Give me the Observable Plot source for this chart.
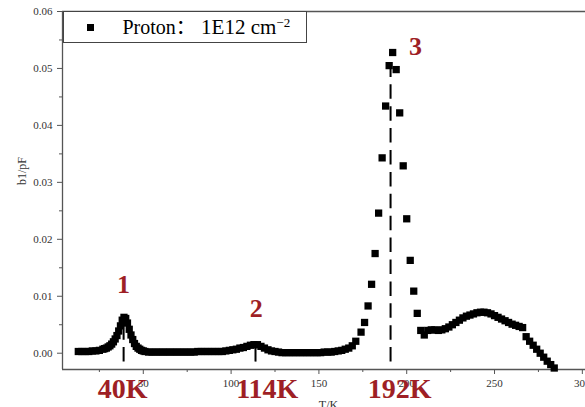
<!DOCTYPE html>
<html>
<head>
<meta charset="utf-8">
<script src="https://cdn.jsdelivr.net/npm/d3@7"></script>
<script src="https://cdn.jsdelivr.net/npm/@observablehq/plot@0.6"></script>
<style>
  html, body { margin: 0; padding: 0; background: white; }
  #wrap { position: relative; width: 585px; height: 407px; overflow: hidden; font-family: "Liberation Serif", "Times New Roman", serif; }
  #legend { position: absolute; left: 62.5px; top: 10.5px; width: 242px; height: 30px; border: 1px solid #444; background: white; box-sizing: content-box; }
  #legend .mk { position: absolute; left: 23px; top: 12px; width: 7px; height: 7px; background: black; }
  #legend .tx { position: absolute; left: 59px; top: 3px; font-size: 20px; line-height: 24px; color: black; white-space: nowrap; font-family: "Liberation Serif", "Noto Sans CJK SC", serif; }
  #legend .rest { font-size: 21px; }
  #legend sup { font-size: 0.62em; vertical-align: 0.55em; line-height: 0; }
  #ylab { position: absolute; left: 22px; top: 171px; transform: translate(-50%, -50%) rotate(-90deg); font-size: 12px; color: #333; white-space: nowrap; }
</style>
</head>
<body>
<div id="wrap">
  <div id="chart"></div>
  <div id="legend"><div class="mk"></div><div class="tx">Proton：<span class="rest">&nbsp;1E12 cm<sup>−2</sup></span></div></div>
  <div id="ylab">b1/pF</div>
</div>
<script>
// Temperatures (K) of measured points
const temps = [
  13,15,17,19,21,23,25,27,28,29,30,31,32,33,34,35,36,37,38,39,
  40,41,42,43,44,45,46,47,48,49,50,51,53,55,57,59,61,63,65,67,
  69,71,73,75,77,79,81,83,85,87,89,91,93,95,97,99,101,103,105,107,
  109,111,113,115,117,119,121,123,125,127,129,131,133,135,137,139,141,143,145,147,
  149,151,153,155,157,159,161,163,165,167,169,171,174,176,178,180,182,184,186,188,
  190,192,194,196,198,200,202,204,206,208,210,212,214,216,218,220,222,224,226,228,
  230,232,234,236,238,240,242,244,246,248,250,252,254,256,258,260,262,264,266,268,
  270,272,274,276,278,280,282,284
];
// b1 values (pF)
const b1 = [
  0.0003,0.0003,0.0003,0.0003,0.0004,0.0004,0.0005,0.0007,0.0008,0.0009,0.0011,0.0013,0.0016,0.0020,0.0025,0.0031,0.0039,0.0048,0.0058,0.0063,
  0.0061,0.0053,0.0042,0.0032,0.0024,0.0017,0.0012,0.0009,0.0007,0.0005,0.0004,0.0003,0.0002,0.0002,0.0002,0.0002,0.0002,0.0002,0.0002,0.0002,
  0.0002,0.0002,0.0002,0.0002,0.0002,0.0002,0.0003,0.0003,0.0003,0.0003,0.0003,0.0003,0.0003,0.0003,0.0004,0.0005,0.0006,0.0007,0.0009,0.0010,
  0.0012,0.0014,0.0015,0.0015,0.0012,0.0009,0.0006,0.0004,0.0003,0.0002,0.0001,0.0001,0.0001,0.0001,0.0001,0.0001,0.0001,0.0001,0.0001,0.0001,
  0.0001,0.0001,0.0002,0.0002,0.0002,0.0003,0.0004,0.0005,0.0007,0.0009,0.0013,0.0021,0.0037,0.0054,0.0083,0.0121,0.0175,0.0246,0.0343,0.0434,
  0.0505,0.0528,0.0498,0.0422,0.0329,0.0236,0.0163,0.0109,0.0070,0.0040,0.0032,0.0040,0.0041,0.0041,0.0040,0.0041,0.0043,0.0046,0.0050,0.0054,
  0.0058,0.0062,0.0065,0.0067,0.0069,0.0071,0.0072,0.0072,0.0071,0.0069,0.0066,0.0063,0.0060,0.0057,0.0054,0.0051,0.0049,0.0047,0.0045,0.0029,
  0.0021,0.0014,0.0007,0.0000,-0.0007,-0.0014,-0.0020,-0.0026
];
// Peak markers
const peakT = [38.8, 113.9, 190.8];
const peakTop = [0.0063, 0.0015, 0.0528];
const peakNum = ["1", "2", "3"];
const peakNumT = [38.8, 114.3, 205.0];
const peakNumV = [0.0106, 0.0063, 0.0523];
const peakK = ["40K", "114K", "192K"];
const peakKT = [38.2, 120.6, 195.9];
// Axis ticks
const xMajor = [50, 100, 150, 200, 250, 300];
const xMinor = [25, 75, 125, 175, 225, 275];
const yMajor = [0, 0.01, 0.02, 0.03, 0.04, 0.05, 0.06];
const yMinor = [0.005, 0.015, 0.025, 0.035, 0.045, 0.055];
const xDomain = [4, 301.8];
const yDomain = [-0.00286, 0.06];

const data = temps.map((t, i) => ({T: t, v: b1[i]}));
const peaks = peakT.map((t, i) => ({T: t, top: peakTop[i], bottom: yDomain[0], num: peakNum[i], numT: peakNumT[i], numV: peakNumV[i], k: peakK[i], kT: peakKT[i]}));
const red = "#9e1f25";
const axisColor = "#555";

const chart = Plot.plot({
  width: 585, height: 407,
  marginLeft: 62, marginRight: 0, marginTop: 11, marginBottom: 38,
  style: {fontFamily: "'Liberation Serif', 'Times New Roman', serif", background: "white", overflow: "visible"},
  x: {domain: xDomain},
  y: {domain: yDomain},
  marks: [
    Plot.axisY({ticks: yMajor, tickSize: 5, tickPadding: 5, tickFormat: d3.format(".2f"), fontSize: 11, stroke: axisColor, fill: "#333", label: null}),
    Plot.axisY({ticks: yMinor, tickSize: 3, tickFormat: () => "", stroke: axisColor, label: null}),
    Plot.axisX({ticks: xMajor, tickSize: 5, tickPadding: 5, tickFormat: d3.format("d"), fontSize: 11, stroke: axisColor, fill: "#333", label: null}),
    Plot.axisX({ticks: xMinor, tickSize: 3, tickFormat: () => "", stroke: axisColor, label: null}),
    Plot.ruleX([xDomain[0]], {stroke: axisColor, strokeWidth: 1.3}),
    Plot.ruleY([yDomain[0]], {stroke: axisColor, strokeWidth: 1.3}),
    Plot.ruleY([yDomain[1]], {stroke: axisColor, strokeWidth: 1.3}),
    Plot.dot(data, {x: "T", y: "v", symbol: "square", r: 4.1, fill: "black"}),
    Plot.ruleX(peaks, {x: "T", y1: "bottom", y2: "top", stroke: "black", strokeWidth: 2, strokeDasharray: "14.5,7.4", strokeDashoffset: 14.5}),
    Plot.text(peaks, {x: "numT", y: "numV", text: "num", fill: red, fontSize: 26, fontWeight: "bold", lineAnchor: "bottom"}),
    Plot.text(peaks, {x: "kT", text: "k", frameAnchor: "bottom", lineAnchor: "bottom", dy: 28, fill: red, fontSize: 28, fontWeight: "bold"}),
    Plot.text(["T/K"], {frameAnchor: "bottom", lineAnchor: "bottom", dy: 39, dx: 4.5, fontSize: 12, fill: "#333"})
  ]
});
document.getElementById("chart").appendChild(chart);
</script>
</body>
</html>
